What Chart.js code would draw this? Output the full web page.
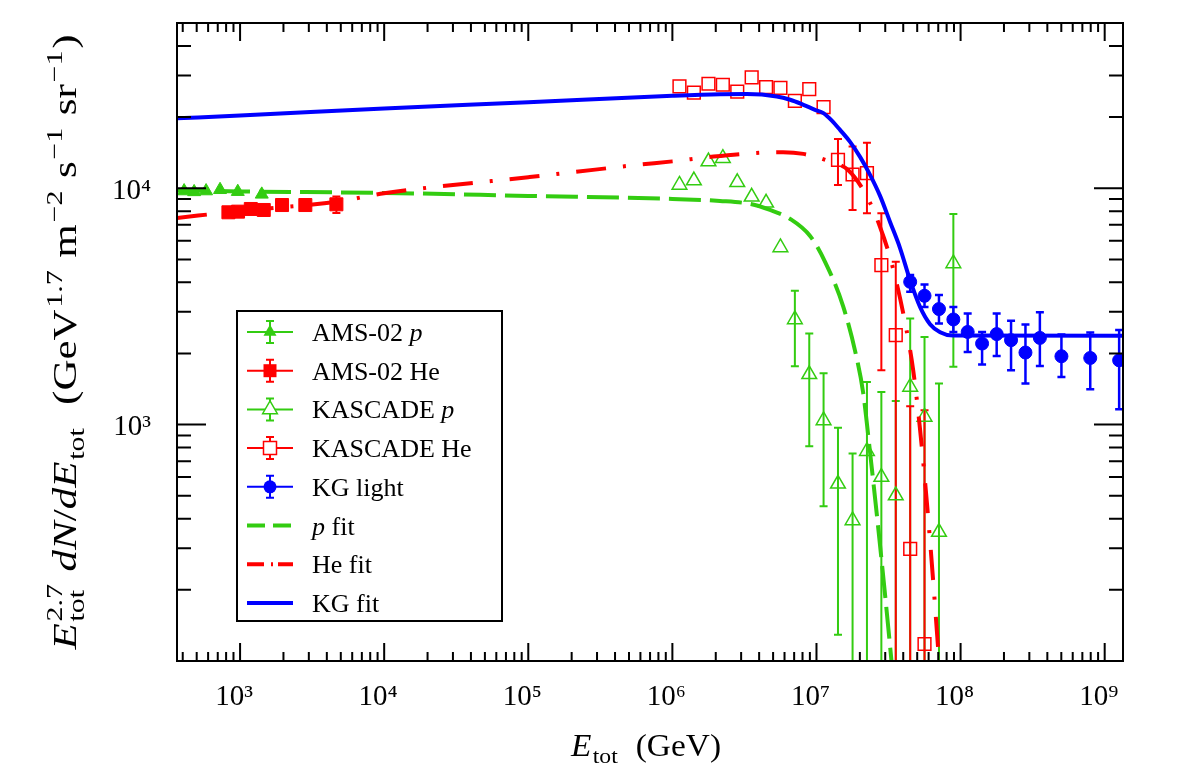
<!DOCTYPE html>
<html>
<head>
<meta charset="UTF-8">
<title>Light component spectrum</title>
<script src="https://cdn.jsdelivr.net/npm/chart.js"></script>
<style>
  body { margin: 0; background: #fff; }
  #wrap { width: 1182px; height: 778px; }
</style>
</head>
<body>
<div id="wrap"><canvas id="spectrumChart" width="1182" height="778"></canvas></div>
<script>
// energies in GeV, flux E^2.7 dN/dE in GeV^1.7 m^-2 s^-1 sr^-1
const amsProtonE = [409, 480, 581, 726, 964, 1414];
const amsProtonF = [9730, 9650, 9730, 9850, 9670, 9420];

const amsHeliumE = [830, 968, 1187, 1460, 1955, 2837, 4660];
const amsHeliumF = [7910, 7960, 8170, 8090, 8490, 8490, 8550];
const amsHeliumLo = [null, null, null, null, null, null, 7850];
const amsHeliumHi = [null, null, null, null, null, null, 9230];

const kascadeE = [1.12e6, 1.41e6, 1.78e6, 2.24e6, 2.82e6, 3.55e6, 4.47e6, 5.62e6, 7.08e6, 8.91e6,
                  1.12e7, 1.41e7, 1.78e7, 2.24e7, 2.82e7, 3.55e7, 4.47e7, 5.62e7, 7.08e7, 8.91e7];

const kascadeProtonF  = [10330, 10770, 12960, 13400, 10590, 9200, 8680, 5620, 2785, 1633,
                         1042, 562, 393, 772, 600, 501, 1443, 1077, 351, 4808];
const kascadeProtonLo = [null, null, null, null, null, null, null, null, 1766, 809,
                         451, 129, 10, 10, 10, 10, 10, 10, 10, 1755];
const kascadeProtonHi = [null, null, null, null, null, null, null, null, 3680, 2432,
                         1648, 971, 754, 1515, 1375, 1260, 2811, 2350, 1492, 7780];

const kascadeHeliumF  = [26950, 25400, 27670, 27400, 25640, 29430, 26800, 26550, 23440, 26240,
                         22030, 13180, 11430, 11580, 4730, 2390, 298, 118];
const kascadeHeliumLo = [null, null, null, null, null, null, null, null, null, null,
                         null, 10320, 8090, 7830, 1700, 10, 10, 10];
const kascadeHeliumHi = [null, null, null, null, null, null, null, null, null, null,
                         null, 16140, 15000, 15590, 7830, 4890, 1196, 1150];

const kgLightE  = [4.47e7, 5.62e7, 7.08e7, 8.91e7, 1.12e8, 1.41e8, 1.78e8, 2.24e8, 2.82e8, 3.55e8, 5.01e8, 7.94e8, 1.26e9];
const kgLightF  = [4018, 3507, 3082, 2785, 2466, 2203, 2415, 2277, 2018, 2327, 1946, 1914, 1871];
const kgLightLo = [3647, 3148, 2680, 2466, 2030, 1795, 1953, 1698, 1492, 1771, 1591, 1412, 1161];
const kgLightHi = [4295, 3918, 3533, 3148, 2951, 2466, 2951, 2748, 2654, 2985, 2404, 2455, 2511];

// fitted curves
const pFitE = [365, 1e3, 1e4, 1e5, 1e6, 2.14e6, 3.46e6, 4.76e6, 6.57e6, 9.03e6, 1.149e7, 1.53e7, 1.916e7, 2.106e7, 2.354e7, 2.762e7, 3.29e7, 3.51e7];
const pFitF = [9788, 9692, 9553, 9278, 9010, 8836, 8581, 8092, 7413, 6279, 4872, 3172, 1873, 1371, 763, 308, 105, 68];

const heFitE = [365, 1e3, 4710, 1e4, 1e5, 1.95e5, 5.66e5, 1e6, 1.93e6, 4.29e6, 5.86e6, 8.11e6, 1.24e7, 1.656e7, 2.208e7, 2.762e7, 3.35e7, 4.126e7, 4.69e7, 5.24e7, 5.86e7, 6.45e7, 7.09e7, 7.56e7];
const heFitF = [7484, 8012, 8774, 9524, 11130, 11650, 12550, 12990, 13610, 14150, 14210, 13970, 12960, 11950, 9368, 6855, 4732, 2687, 1699, 946, 455, 219, 100, 59];

const kgFitE = [365, 1e3, 1e4, 1e5, 1e6, 2.14e6, 3.28e6, 5.30e6, 6.57e6, 8.11e6, 9.77e6, 1.117e7, 1.283e7, 1.457e7, 1.71e7, 2.006e7, 2.354e7, 2.762e7, 3.24e7, 3.80e7, 4.46e7, 5.24e7, 6.14e7, 7.21e7, 8.87e7, 1.34e9];
const kgFitF = [19760, 20300, 21740, 23100, 24610, 24980, 25020, 24440, 23670, 22540, 21470, 20790, 19280, 17660, 15710, 13570, 11390, 9280, 7200, 5585, 4088, 3141, 2661, 2461, 2380, 2375];

const xLabelTicks = [1e3, 1e4, 1e5, 1e6, 1e7, 1e8, 1e9];
const xLabelText  = ['10³', '10⁴', '10⁵', '10⁶', '10⁷', '10⁸', '10⁹'];
const yLabelTicks = [1e3, 1e4];
const yLabelText  = ['10³', '10⁴'];

const GREEN = '#33cc11';
const RED = '#ff0000';
const BLUE = '#0000ff';
const SERIF = '"Liberation Serif", "DejaVu Serif", serif';

function pts(xs, ys) {
  return xs.map((v, i) => ({ x: v, y: ys[i] }));
}

// tick positions: 10^n (major) and 2..9 x 10^n (minor) inside the range
function logTicks(min, max) {
  const major = [], minor = [];
  for (let e = Math.floor(Math.log10(min)); e <= Math.ceil(Math.log10(max)); e++) {
    for (let m = 1; m <= 9; m++) {
      const v = m * Math.pow(10, e);
      if (v < min * 0.999 || v > max * 1.001) continue;
      (m === 1 ? major : minor).push(v);
    }
  }
  return { major, minor };
}

const errorSets = [
  { xs: amsHeliumE, lo: amsHeliumLo, hi: amsHeliumHi, color: RED, width: 2 },
  { xs: kascadeE, lo: kascadeProtonLo, hi: kascadeProtonHi, color: GREEN, width: 2 },
  { xs: kascadeE, lo: kascadeHeliumLo, hi: kascadeHeliumHi, color: RED, width: 2 },
  { xs: kgLightE, lo: kgLightLo, hi: kgLightHi, color: BLUE, width: 2.5 }
];

const errorBars = {
  id: 'errorBars',
  beforeDatasetsDraw(chart) {
    const { ctx, chartArea: a, scales: { x, y } } = chart;
    ctx.save();
    ctx.beginPath();
    ctx.rect(a.left, a.top, a.right - a.left, a.bottom - a.top);
    ctx.clip();
    errorSets.forEach(s => {
      ctx.strokeStyle = s.color;
      ctx.lineWidth = s.width;
      s.xs.forEach((e, i) => {
        if (s.lo[i] == null) return;
        const px = x.getPixelForValue(e);
        const p1 = y.getPixelForValue(s.lo[i]);
        const p2 = y.getPixelForValue(s.hi[i]);
        ctx.beginPath();
        ctx.moveTo(px, p1); ctx.lineTo(px, p2);
        ctx.moveTo(px - 4, p1); ctx.lineTo(px + 4, p1);
        ctx.moveTo(px - 4, p2); ctx.lineTo(px + 4, p2);
        ctx.stroke();
      });
    });
    ctx.restore();
  }
};

// rich text: plain / italic runs with superscripts and subscripts
function partWidth(ctx, p, size) {
  if (p.t !== undefined) {
    ctx.font = (p.i ? 'italic ' : '') + size + 'px ' + SERIF;
    return ctx.measureText(p.t).width;
  }
  ctx.font = Math.round(size * 0.7) + 'px ' + SERIF;
  const w1 = p.sup ? ctx.measureText(p.sup).width : 0;
  const w2 = p.sub ? ctx.measureText(p.sub).width : 0;
  return Math.max(w1, w2) + size * 0.08;
}
function richWidth(ctx, parts, size) {
  return parts.reduce((s, p) => s + partWidth(ctx, p, size), 0);
}
function drawRich(ctx, parts, x, y, size) {
  ctx.textBaseline = 'alphabetic';
  ctx.textAlign = 'left';
  parts.forEach(p => {
    const w = partWidth(ctx, p, size);
    if (p.t !== undefined) {
      ctx.font = (p.i ? 'italic ' : '') + size + 'px ' + SERIF;
      ctx.fillText(p.t, x, y);
    } else {
      ctx.font = Math.round(size * 0.7) + 'px ' + SERIF;
      if (p.sup) ctx.fillText(p.sup, x + size * 0.04, y - size * 0.42);
      if (p.sub) ctx.fillText(p.sub, x + size * 0.04, y + size * 0.24);
    }
    x += w;
  });
}
// centred on (cx, y), stretched along the baseline to the given length
function drawRichSpan(ctx, parts, cx, y, size, length) {
  const w = richWidth(ctx, parts, size);
  ctx.save();
  ctx.translate(cx - length / 2, y);
  ctx.scale(length / w, 1);
  drawRich(ctx, parts, 0, 0, size);
  ctx.restore();
}

const yTitle = [
  { t: 'E', i: true }, { sup: '2.7', sub: 'tot' }, { t: ' ' },
  { t: 'dN', i: true }, { t: '/' }, { t: 'dE', i: true }, { sub: 'tot' },
  { t: '  (GeV' }, { sup: '1.7' }, { t: ' m' }, { sup: '−2' },
  { t: ' s' }, { sup: '−1' }, { t: ' sr' }, { sup: '−1' }, { t: ')' }
];
const xTitle = [{ t: 'E', i: true }, { sub: 'tot' }, { t: '  (GeV)' }];

const legendRows = [
  { kind: 'marker', style: 'tri', fill: true, color: GREEN, text: [{ t: 'AMS-02 ' }, { t: 'p', i: true }] },
  { kind: 'marker', style: 'sq', fill: true, color: RED, text: [{ t: 'AMS-02 He' }] },
  { kind: 'marker', style: 'tri', fill: false, color: GREEN, text: [{ t: 'KASCADE ' }, { t: 'p', i: true }] },
  { kind: 'marker', style: 'sq', fill: false, color: RED, text: [{ t: 'KASCADE He' }] },
  { kind: 'marker', style: 'dot', fill: true, color: BLUE, text: [{ t: 'KG light' }] },
  { kind: 'line', dash: [18, 8], color: GREEN, text: [{ t: 'p', i: true }, { t: ' fit' }] },
  { kind: 'line', dash: [17, 7, 2, 5], color: RED, text: [{ t: 'He fit' }] },
  { kind: 'line', dash: [], color: BLUE, text: [{ t: 'KG fit' }] }
];

function drawMarker(ctx, style, fill, color, cx, cy) {
  ctx.save();
  ctx.strokeStyle = color;
  ctx.fillStyle = color;
  ctx.lineWidth = 1.5;
  ctx.beginPath();
  if (style === 'tri') {
    const r = fill ? 7.5 : 8.5;
    ctx.moveTo(cx, cy - r);
    ctx.lineTo(cx + r * 0.866, cy + r * 0.5);
    ctx.lineTo(cx - r * 0.866, cy + r * 0.5);
    ctx.closePath();
  } else if (style === 'sq') {
    const h = 6.5;
    ctx.rect(cx - h, cy - h, 2 * h, 2 * h);
  } else {
    ctx.arc(cx, cy, 6.5, 0, Math.PI * 2);
  }
  if (fill) ctx.fill(); else { ctx.fillStyle = '#fff'; ctx.fill(); ctx.stroke(); }
  ctx.restore();
}

const frameAndText = {
  id: 'frameAndText',
  afterDraw(chart) {
    const { ctx, chartArea: a, scales: { x, y } } = chart;
    ctx.save();
    ctx.strokeStyle = '#000';
    ctx.fillStyle = '#000';
    ctx.lineWidth = 2;
    // inward ticks on all four sides
    const xt = logTicks(x.min, x.max);
    const yt = logTicks(y.min, y.max);
    ctx.beginPath();
    const xTick = (v, len) => {
      const p = x.getPixelForValue(v);
      ctx.moveTo(p, a.bottom); ctx.lineTo(p, a.bottom - len);
      ctx.moveTo(p, a.top); ctx.lineTo(p, a.top + len);
    };
    const yTick = (v, len) => {
      const p = y.getPixelForValue(v);
      ctx.moveTo(a.left, p); ctx.lineTo(a.left + len, p);
      ctx.moveTo(a.right, p); ctx.lineTo(a.right - len, p);
    };
    xt.major.forEach(v => xTick(v, 18));
    xt.minor.forEach(v => xTick(v, 9));
    yt.major.forEach(v => yTick(v, 29));
    yt.minor.forEach(v => yTick(v, 14));
    ctx.stroke();
    ctx.strokeRect(a.left, a.top, a.right - a.left, a.bottom - a.top);

    // axis titles
    drawRichSpan(ctx, xTitle, (a.left + a.right) / 2 - 4, 756, 31, 150);
    ctx.save();
    ctx.translate(76, (a.top + a.bottom) / 2);
    ctx.rotate(-Math.PI / 2);
    drawRichSpan(ctx, yTitle, 0, 0, 33, 615);
    ctx.restore();

    // legend box
    const L = { left: 237, top: 311, right: 502, bottom: 621 };
    ctx.fillStyle = '#fff';
    ctx.fillRect(L.left, L.top, L.right - L.left, L.bottom - L.top);
    ctx.lineWidth = 2;
    ctx.strokeStyle = '#000';
    ctx.strokeRect(L.left, L.top, L.right - L.left, L.bottom - L.top);
    legendRows.forEach((row, i) => {
      const cy = 332 + i * 38.7;
      ctx.save();
      ctx.strokeStyle = row.color;
      if (row.kind === 'marker') {
        ctx.lineWidth = 2;
        ctx.beginPath();
        ctx.moveTo(247, cy); ctx.lineTo(293, cy);
        ctx.moveTo(270, cy - 11); ctx.lineTo(270, cy + 11);
        ctx.moveTo(266, cy - 11); ctx.lineTo(274, cy - 11);
        ctx.moveTo(266, cy + 11); ctx.lineTo(274, cy + 11);
        ctx.stroke();
        drawMarker(ctx, row.style, row.fill, row.color, 270, cy);
      } else {
        ctx.lineWidth = 4;
        ctx.setLineDash(row.dash);
        ctx.beginPath();
        ctx.moveTo(247, cy); ctx.lineTo(293, cy);
        ctx.stroke();
      }
      ctx.restore();
      ctx.fillStyle = '#000';
      drawRich(ctx, row.text, 312, cy + 9, 26);
    });
    ctx.restore();
  }
};

const ctx = document.getElementById('spectrumChart').getContext('2d');
new Chart(ctx, {
  type: 'scatter',
  data: {
    datasets: [
      { label: 'KG fit', data: pts(kgFitE, kgFitF), showLine: true, borderColor: BLUE, borderWidth: 4,
        pointRadius: 0, cubicInterpolationMode: 'monotone', order: 1 },
      { label: 'He fit', data: pts(heFitE, heFitF), showLine: true, borderColor: RED, borderWidth: 4,
        borderDash: [30, 17, 3, 17], pointRadius: 0, cubicInterpolationMode: 'monotone', order: 2 },
      { label: 'p fit', data: pts(pFitE, pFitF), showLine: true, borderColor: GREEN, borderWidth: 4,
        borderDash: [32, 9], pointRadius: 0, cubicInterpolationMode: 'monotone', order: 3 },
      { label: 'KG light', data: pts(kgLightE, kgLightF), pointStyle: 'circle', pointRadius: 6.5,
        backgroundColor: BLUE, borderColor: BLUE, borderWidth: 1, order: 4 },
      { label: 'KASCADE He', data: pts(kascadeE, kascadeHeliumF), pointStyle: 'rect', pointRadius: 9,
        backgroundColor: 'rgba(0,0,0,0)', borderColor: RED, borderWidth: 1.5, order: 5 },
      { label: 'KASCADE p', data: pts(kascadeE, kascadeProtonF), pointStyle: 'triangle', pointRadius: 8.5,
        backgroundColor: 'rgba(0,0,0,0)', borderColor: GREEN, borderWidth: 1.5, order: 6 },
      { label: 'AMS-02 He', data: pts(amsHeliumE, amsHeliumF), pointStyle: 'rect', pointRadius: 9.2,
        backgroundColor: RED, borderColor: RED, borderWidth: 1, order: 7 },
      { label: 'AMS-02 p', data: pts(amsProtonE, amsProtonF), pointStyle: 'triangle', pointRadius: 7.5,
        backgroundColor: GREEN, borderColor: GREEN, borderWidth: 1, order: 8 }
    ]
  },
  options: {
    responsive: false,
    animation: false,
    events: [],
    layout: { padding: { top: 23, right: 59, left: 0, bottom: 0 } },
    plugins: { legend: { display: false }, tooltip: { enabled: false } },
    scales: {
      x: {
        type: 'logarithmic', min: 365, max: 1.34e9,
        grid: { display: false }, border: { display: false },
        afterBuildTicks: s => { s.ticks = xLabelTicks.map(v => ({ value: v })); },
        afterFit: s => { s.height = 117; s.paddingLeft = 0; s.paddingRight = 0; },
        ticks: {
          autoSkip: false, maxRotation: 0, padding: 11, labelOffset: -6, color: '#000',
          font: { family: SERIF, size: 29 },
          callback: v => { const i = xLabelTicks.indexOf(v); return i >= 0 ? xLabelText[i] : ''; }
        }
      },
      y: {
        type: 'logarithmic', min: 100, max: 5e4,
        grid: { display: false }, border: { display: false },
        afterBuildTicks: s => { s.ticks = yLabelTicks.map(v => ({ value: v })); },
        afterFit: s => { s.width = 177; s.paddingTop = 0; s.paddingBottom = 0; },
        ticks: {
          autoSkip: false, padding: 18, labelOffset: 3, color: '#000',
          font: { family: SERIF, size: 29 },
          callback: v => { const i = yLabelTicks.indexOf(v); return i >= 0 ? yLabelText[i] : ''; }
        }
      }
    }
  },
  plugins: [errorBars, frameAndText]
});
</script>
</body>
</html>
